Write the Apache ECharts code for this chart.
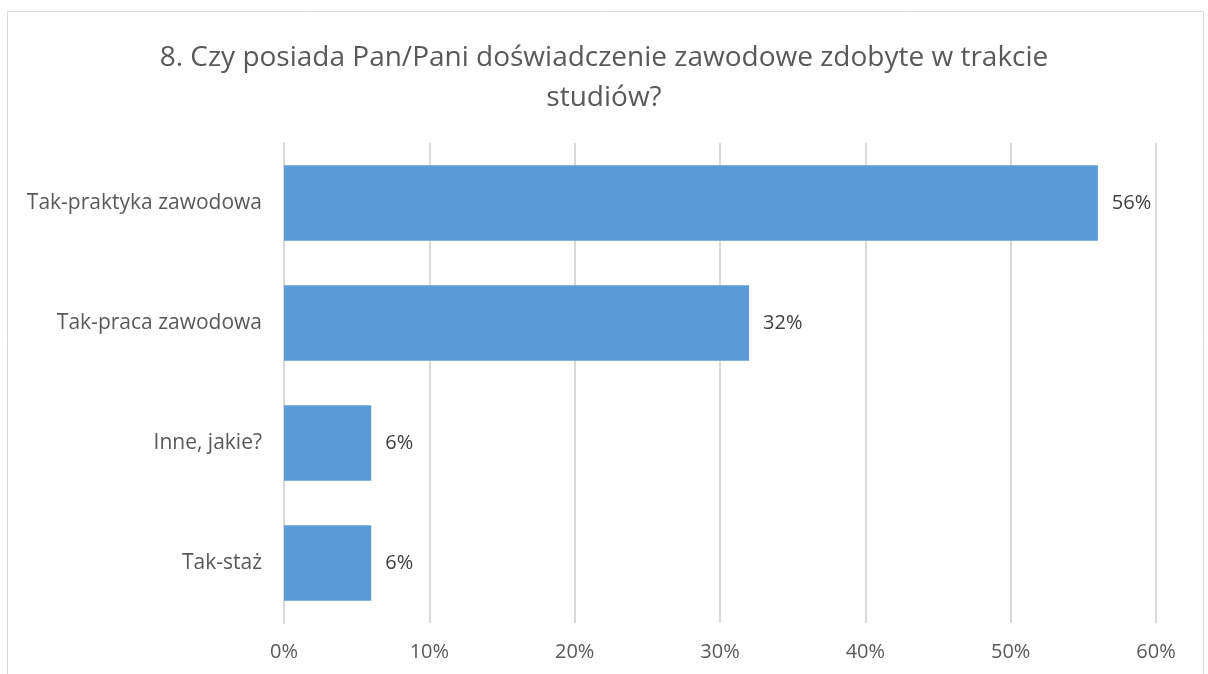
<!DOCTYPE html>
<html><head><meta charset="utf-8">
<script src="https://cdn.jsdelivr.net/npm/echarts@6/dist/echarts.min.js"></script>
<style>html,body{margin:0;padding:0;background:#fff}#c{width:1208px;height:674px}</style>
</head><body><div id="c"></div>
<script>
const categories = ["Tak-praktyka zawodowa", "Tak-praca zawodowa", "Inne, jakie?", "Tak-staż"];
const values = [56, 32, 6, 6];
const titleText = "8. Czy posiada Pan/Pani doświadczenie zawodowe zdobyte w trakcie\nstudiów?";

const chart = echarts.init(document.getElementById('c'), null, {renderer: 'canvas'});
const font = "'Open Sans', 'Noto Sans', sans-serif";
chart.setOption({
  animation: false,
  textStyle: {fontFamily: font},
  graphic: [{
    type: 'rect', shape: {x: 7.5, y: 11.5, width: 1196, height: 700},
    style: {fill: 'none', stroke: '#d9d9d9', lineWidth: 1}, silent: true, z: -1
  }],
  title: {
    text: titleText, left: 'center', top: 33,
    textStyle: {fontFamily: font, fontSize: 28, fontWeight: 'normal', color: '#595959', lineHeight: 40}
  },
  grid: {left: 284, right: 52, top: 143, bottom: 51, containLabel: false},
  xAxis: {
    type: 'value', min: 0, max: 60, interval: 10,
    axisLabel: {formatter: '{value}%', fontSize: 20, color: '#595959', margin: 19, fontFamily: font},
    splitLine: {lineStyle: {color: '#d9d9d9', width: 2}},
    axisLine: {show: false}, axisTick: {show: false}
  },
  yAxis: {
    type: 'category', data: categories, inverse: true,
    axisLabel: {fontSize: 21, color: '#595959', margin: 22, fontFamily: font},
    axisLine: {show: true, lineStyle: {color: '#d9d9d9', width: 2}}, axisTick: {show: false}
  },
  series: [{
    type: 'bar', data: values, barCategoryGap: '37%',
    itemStyle: {color: '#5b9bd5'},
    label: {show: true, position: 'right', formatter: '{c}%', fontSize: 20, color: '#404040', distance: 14, fontFamily: font}
  }]
});
</script></body></html>
